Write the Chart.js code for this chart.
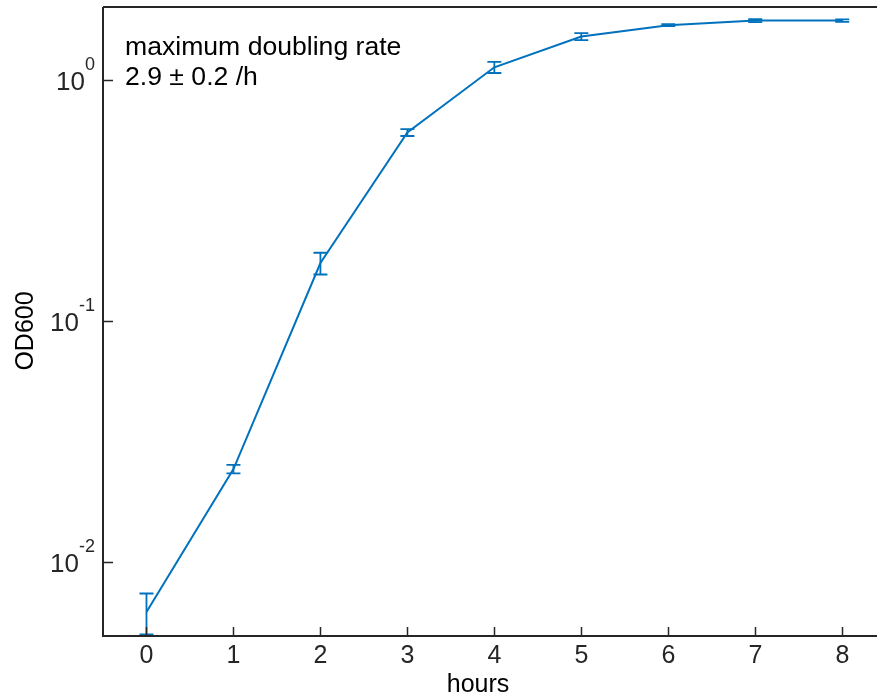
<!DOCTYPE html>
<html lang="en">
<head>
  <meta charset="UTF-8" />
  <title>Growth curve OD600</title>
  <script src="https://cdn.jsdelivr.net/npm/chart.js"></script>
  <style>
    body { margin: 0; background: #fff; }
    canvas { display: block; }
  </style>
</head>
<body>
  <canvas id="growth" width="877" height="698"></canvas>

  <script>
    // measured OD600 per hour, with standard deviation
    const hours = [0, 1, 2, 3, 4, 5, 6, 7, 8];
    const od600 = [0.0062, 0.0243, 0.174, 0.606, 1.13, 1.516, 1.69, 1.765, 1.765];
    const odErr = [0.0012, 0.001, 0.018, 0.02, 0.06, 0.05, 0.015, 0.025, 0.02];

    const xTicks = [0, 1, 2, 3, 4, 5, 6, 7, 8];
    const yTickExps = [0, -1, -2];

    const blue = '#0072BD';
    const axisColor = '#262626';
    const font = '"Liberation Sans", Arial, sans-serif';

    // error bars drawn on top of the line
    const errorBars = {
      id: 'errorBars',
      afterDatasetsDraw(chart) {
        const { ctx, scales: { x, y } } = chart;
        ctx.save();
        ctx.strokeStyle = blue;
        ctx.lineWidth = 1.8;
        hours.forEach((h, i) => {
          const px = x.getPixelForValue(h);
          const top = y.getPixelForValue(od600[i] + odErr[i]);
          const bot = y.getPixelForValue(od600[i] - odErr[i]);
          ctx.beginPath();
          ctx.moveTo(px, top); ctx.lineTo(px, bot);
          ctx.moveTo(px - 7, top); ctx.lineTo(px + 7, top);
          ctx.moveTo(px - 7, bot); ctx.lineTo(px + 7, bot);
          ctx.stroke();
        });
        ctx.restore();
      }
    };

    // box, inward ticks, tick labels, titles and annotation
    const axesFrame = {
      id: 'axesFrame',
      afterDraw(chart) {
        const { ctx, chartArea: a, scales: { x, y } } = chart;
        ctx.save();
        ctx.strokeStyle = axisColor;
        ctx.lineWidth = 2;
        ctx.beginPath();
        ctx.moveTo(a.left, a.top); ctx.lineTo(a.right + 2, a.top);
        ctx.moveTo(a.left, a.top); ctx.lineTo(a.left, a.bottom);
        ctx.lineTo(a.right + 2, a.bottom);
        ctx.stroke();

        ctx.fillStyle = axisColor;
        ctx.font = '25px ' + font;
        ctx.textAlign = 'center';
        ctx.textBaseline = 'alphabetic';
        ctx.beginPath();
        xTicks.forEach(t => {
          const px = Math.round(x.getPixelForValue(t)) + 0.5;
          ctx.moveTo(px, a.bottom); ctx.lineTo(px, a.bottom - 9);
          ctx.fillText(String(t), px, a.bottom + 27);
        });
        yTickExps.forEach(e => {
          const py = Math.round(y.getPixelForValue(Math.pow(10, e))) + 0.5;
          ctx.moveTo(a.left, py); ctx.lineTo(a.left + 10, py);
          const sup = String(e);
          ctx.font = '18px ' + font;
          const supW = ctx.measureText(sup).width;
          ctx.textAlign = 'right';
          ctx.fillText(sup, a.left - 8, py - 11);
          ctx.font = '26px ' + font;
          ctx.fillText('10', a.left - 8 - supW, py + 9);
          ctx.textAlign = 'center';
        });
        ctx.lineWidth = 1.5;
        ctx.stroke();

        ctx.fillStyle = '#000';
        ctx.font = '25px ' + font;
        ctx.fillText('hours', 478, 692);
        ctx.save();
        ctx.translate(33, 331);
        ctx.rotate(-Math.PI / 2);
        ctx.fillText('OD600', 0, 0);
        ctx.restore();

        ctx.textAlign = 'left';
        ctx.font = '26.6px ' + font;
        ctx.fillText('maximum doubling rate', 125, 55);
        ctx.fillText('2.9 \u00b1 0.2 /h', 125, 85);
        ctx.restore();
      }
    };

    new Chart(document.getElementById('growth'), {
      type: 'line',
      data: {
        labels: hours,
        datasets: [{
          data: hours.map((h, i) => ({ x: h, y: od600[i] })),
          borderColor: blue,
          borderWidth: 2,
          pointRadius: 0,
          tension: 0,
          fill: false
        }]
      },
      options: {
        responsive: false,
        animation: false,
        layout: { padding: { left: 103, top: 7, right: 0, bottom: 62 } },
        plugins: { legend: { display: false }, tooltip: { enabled: false } },
        scales: {
          x: { type: 'linear', min: -0.5, max: 8.4, display: false },
          y: { type: 'logarithmic', min: 0.00493, max: 2.01, display: false }
        }
      },
      plugins: [errorBars, axesFrame]
    });
  </script>
</body>
</html>
